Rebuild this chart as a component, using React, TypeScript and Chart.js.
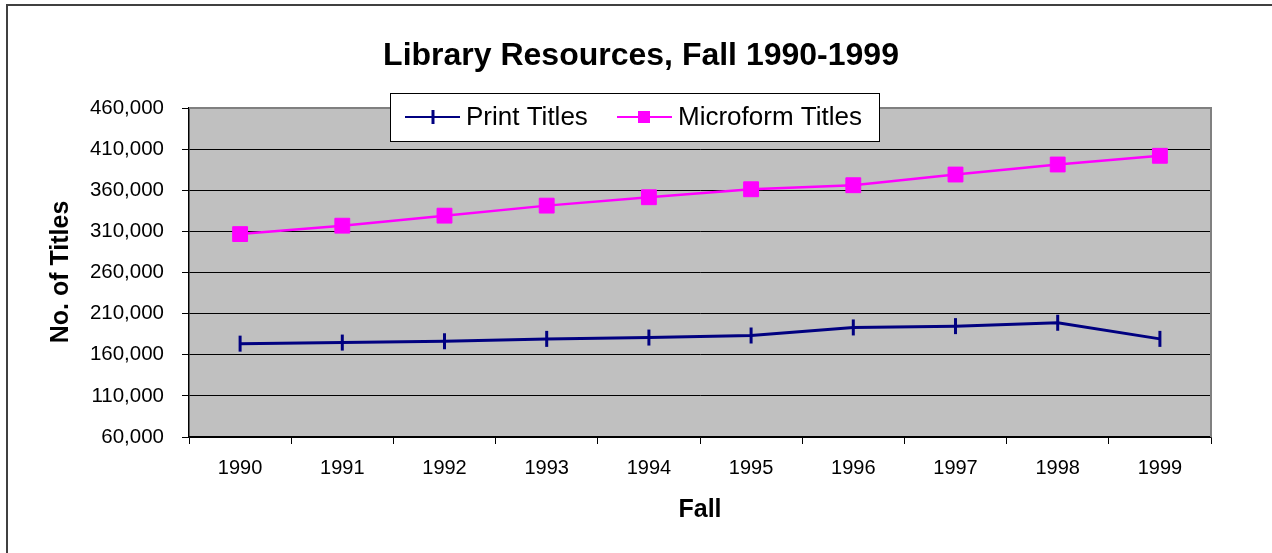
import React, { useEffect, useRef } from "react";
import { Chart, registerables } from "chart.js";

Chart.register(...registerables);

const categories = ["1990", "1991", "1992", "1993", "1994", "1995", "1996", "1997", "1998", "1999"];
const printTitles = [173500, 174800, 176400, 179300, 180900, 183400, 193200, 194800, 198900, 179300];
const microformTitles = [306700, 316900, 329100, 341300, 351500, 361200, 366100, 379100, 391300, 401900];
const yMin = 60000;
const yMax = 460000;
const yStep = 50000;

const FONT = "'Liberation Sans', Arial, Helvetica, sans-serif";
const PRINT_COLOR = "#000080";
const MICRO_COLOR = "#FF00FF";

const decorPlugin = {
  id: "decor",
  beforeDraw(chart: any) {
    const { ctx, chartArea: a } = chart;
    ctx.save();
    // outer frame (top & left visible)
    ctx.strokeStyle = "#404040";
    ctx.lineWidth = 2;
    ctx.beginPath();
    ctx.moveTo(7, 600);
    ctx.lineTo(7, 5);
    ctx.lineTo(1300, 5);
    ctx.stroke();
    // plot background
    ctx.fillStyle = "#C0C0C0";
    ctx.fillRect(a.left, a.top, a.right - a.left, a.bottom - a.top);
    ctx.restore();
  },
  beforeDatasetsDraw(chart: any) {
    const { ctx, chartArea: a } = chart;
    ctx.save();
    ctx.strokeStyle = "#808080";
    ctx.lineWidth = 2;
    ctx.beginPath();
    ctx.moveTo(a.left, a.top);
    ctx.lineTo(a.right, a.top);
    ctx.lineTo(a.right, a.bottom);
    ctx.stroke();
    ctx.restore();
  },
  afterDraw(chart: any) {
    const { ctx, chartArea: a } = chart;
    ctx.save();
    // title
    ctx.fillStyle = "#000";
    ctx.font = `bold 32px ${FONT}`;
    ctx.textAlign = "center";
    ctx.textBaseline = "middle";
    ctx.fillText("Library Resources, Fall 1990-1999", 641, 56);
    // axis titles
    ctx.font = `bold 25px ${FONT}`;
    ctx.fillText("Fall", (a.left + a.right) / 2, 510);
    ctx.save();
    ctx.translate(61, 272);
    ctx.rotate(-Math.PI / 2);
    ctx.fillText("No. of Titles", 0, 0);
    ctx.restore();
    // legend
    const lx = 390, ly = 93, lw = 489, lh = 48;
    ctx.fillStyle = "#fff";
    ctx.fillRect(lx, ly, lw, lh);
    ctx.strokeStyle = "#000";
    ctx.lineWidth = 1;
    ctx.strokeRect(lx + 0.5, ly + 0.5, lw, lh);
    const cy = ly + lh / 2;
    // print sample
    ctx.strokeStyle = PRINT_COLOR;
    ctx.lineWidth = 2;
    ctx.beginPath();
    ctx.moveTo(405, cy);
    ctx.lineTo(460, cy);
    ctx.stroke();
    ctx.lineWidth = 3;
    ctx.beginPath();
    ctx.moveTo(433, cy - 7);
    ctx.lineTo(433, cy + 7);
    ctx.stroke();
    // micro sample
    ctx.strokeStyle = MICRO_COLOR;
    ctx.lineWidth = 2;
    ctx.beginPath();
    ctx.moveTo(617, cy);
    ctx.lineTo(672, cy);
    ctx.stroke();
    ctx.fillStyle = MICRO_COLOR;
    ctx.fillRect(644 - 6, cy - 6, 12, 12);
    // legend text
    ctx.fillStyle = "#000";
    ctx.font = `26px ${FONT}`;
    ctx.textAlign = "left";
    ctx.fillText("Print Titles", 466, cy + 1);
    ctx.fillText("Microform Titles", 678, cy + 1);
    ctx.restore();
  },
};

export default function App() {
  const ref = useRef<HTMLCanvasElement>(null);
  useEffect(() => {
    if (!ref.current) return;
    const chart = new Chart(ref.current, {
      type: "line",
      data: {
        labels: categories,
        datasets: [
          {
            label: "Print Titles",
            data: printTitles,
            borderColor: PRINT_COLOR,
            backgroundColor: PRINT_COLOR,
            borderWidth: 3,
            pointStyle: "line",
            rotation: 90,
            pointRadius: 8,
            pointBorderWidth: 3,
            pointBorderColor: PRINT_COLOR,
            tension: 0,
          },
          {
            label: "Microform Titles",
            data: microformTitles,
            borderColor: MICRO_COLOR,
            backgroundColor: MICRO_COLOR,
            borderWidth: 2.5,
            pointStyle: "rect",
            pointRadius: 10.5,
            pointBorderWidth: 1,
            pointBorderColor: MICRO_COLOR,
            pointBackgroundColor: MICRO_COLOR,
            tension: 0,
          },
        ],
      },
      options: {
        animation: false,
        responsive: false,
        maintainAspectRatio: false,
        layout: { padding: { left: 0, top: 108, right: 61, bottom: 0 } },
        plugins: {
          legend: { display: false },
          title: { display: false },
          tooltip: { enabled: false },
        },
        scales: {
          x: {
            type: "category",
            offset: true,
            afterFit: (s: any) => {
              s.height = 116;
            },
            grid: {
              offset: true,
              drawOnChartArea: false,
              drawTicks: true,
              tickLength: 7,
              color: "#000",
              lineWidth: 1,
            },
            border: { display: true, color: "#000", width: 1.5 },
            ticks: {
              color: "#000",
              font: { family: FONT, size: 20 },
              padding: 12,
              maxRotation: 0,
              autoSkip: false,
            },
          },
          y: {
            min: yMin,
            max: yMax,
            afterFit: (s: any) => {
              s.width = 189;
            },
            grid: {
              color: "#000",
              lineWidth: 1,
              drawTicks: true,
              tickLength: 7,
            },
            border: { display: true, color: "#000", width: 1.5 },
            ticks: {
              stepSize: yStep,
              color: "#000",
              font: { family: FONT, size: 20.5 },
              padding: 18,
              callback: (v: any) => Number(v).toLocaleString("en-US"),
            },
          },
        },
      },
      plugins: [decorPlugin],
    });
    return () => chart.destroy();
  }, []);
  return (
    <div
      style={{
        position: "fixed",
        left: 0,
        top: 0,
        width: 1272,
        height: 553,
        background: "#fff",
        overflow: "hidden",
      }}
    >
      <canvas ref={ref} width={1272} height={553} style={{ display: "block", width: 1272, height: 553 }} />
    </div>
  );
}
